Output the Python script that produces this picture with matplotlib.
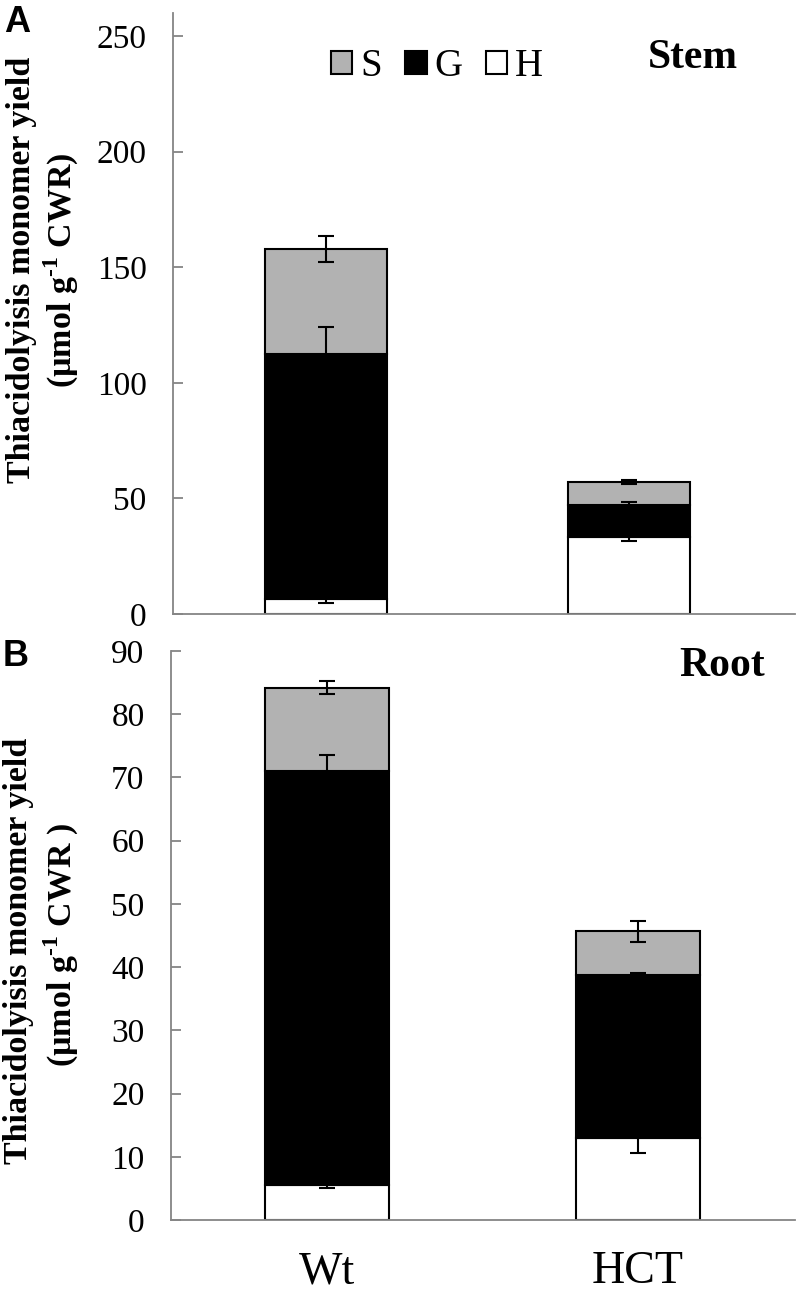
import numpy as np
import matplotlib.pyplot as plt
from matplotlib.patches import Patch

plt.rcParams['font.family'] = 'Liberation Serif'
plt.rcParams['mathtext.fontset'] = 'custom'
plt.rcParams['mathtext.rm'] = 'Liberation Serif:bold'
plt.rcParams['mathtext.bf'] = 'Liberation Serif:bold'

genotypes = ['Wt', 'HCT']

# stem (A): stacked segment values
stem_H = [6.5, 33.3]
stem_G = [106.0, 13.8]
stem_S = [45.5, 10.0]
stem_H_err = [1.8, 1.7]
stem_G_err = [11.7, 1.3]
stem_S_err = [5.6, 0.7]

# root (B)
root_H = [5.5, 13.0]
root_G = [65.5, 25.7]
root_S = [13.2, 6.95]
root_H_err = [0.5, 2.4]
root_G_err = [2.5, 0.3]
root_S_err = [1.0, 1.6]

gray = '#b2b2b2'
spine_col = '#858585'
W, H_px = 797, 1296

fig = plt.figure(figsize=(W / 100, H_px / 100), dpi=100)
axA = fig.add_axes([173 / W, 1 - 614 / H_px, (795 - 173) / W, (614 - 13) / H_px])
axB = fig.add_axes([171 / W, 1 - 1220 / H_px, (795 - 171) / W, (1220 - 651) / H_px])


def stacked(ax, h, g, s, eh, eg, es):
    x = np.arange(len(genotypes))
    h = np.array(h); g = np.array(g); s = np.array(s)
    kw = dict(width=0.4, edgecolor='black', linewidth=1.5, zorder=2)
    ax.bar(x, h, color='white', **kw)
    ax.bar(x, g, bottom=h, color='black', **kw)
    ax.bar(x, s, bottom=h + g, color=gray, **kw)
    ekw = dict(fmt='none', ecolor='black', elinewidth=1.5, capsize=5.5, capthick=1.5, zorder=4)
    ax.errorbar(x, h, yerr=eh, **ekw)
    ax.errorbar(x, h + g, yerr=eg, **ekw)
    ax.errorbar(x, h + g + s, yerr=es, **ekw)
    for side in ['top', 'right']:
        ax.spines[side].set_visible(False)
    for side in ['left', 'bottom']:
        ax.spines[side].set_color(spine_col)
        ax.spines[side].set_linewidth(1.3)
    ax.tick_params(axis='y', direction='in', length=7, width=1.3, color=spine_col,
                   labelsize=24, pad=19)
    ax.tick_params(axis='x', length=0)


stacked(axA, stem_H, stem_G, stem_S, stem_H_err, stem_G_err, stem_S_err)
axA.set_xlim(-0.505, 1.548)
axA.set_ylim(0, 260)
axA.set_yticks(range(0, 251, 50))
axA.set_xticks([])

stacked(axB, root_H, root_G, root_S, root_H_err, root_G_err, root_S_err)
axB.set_xlim(-0.502, 1.506)
axB.set_ylim(0, 90)
axB.set_yticks(range(0, 91, 10))
axB.set_xticks(range(len(genotypes)))
axB.set_xticklabels(genotypes, fontsize=33)
axB.tick_params(axis='x', pad=22)

handles = [Patch(facecolor=gray, edgecolor='black', linewidth=1.5, label='S'),
           Patch(facecolor='black', edgecolor='black', linewidth=1.5, label='G'),
           Patch(facecolor='white', edgecolor='black', linewidth=1.5, label='H')]
axA.legend(handles=handles, loc='center', bbox_to_anchor=(437 / W, 1 - 67 / H_px),
           bbox_transform=fig.transFigure, ncol=3, frameon=False,
           handlelength=0.55, handleheight=0.55, handletextpad=0.2,
           columnspacing=0.6, prop={'family': 'Liberation Serif', 'size': 28})

fig.text(738 / W, 1 - 68 / H_px, 'Stem', ha='right', va='baseline',
         fontsize=30, fontweight='bold')
fig.text(765 / W, 1 - 676 / H_px, 'Root', ha='right', va='baseline',
         fontsize=30, fontweight='bold')

fig.text(4 / W, 1 - 32 / H_px, 'A', family='Liberation Sans', fontweight='bold',
         fontsize=26, va='baseline')
fig.text(3 / W, 1 - 666 / H_px, 'B', family='Liberation Sans', fontweight='bold',
         fontsize=26, va='baseline')

lab = dict(rotation=90, ha='center', va='center', fontsize=24.5, fontweight='bold')
fig.text(22 / W, 1 - 270 / H_px, 'Thiacidolyisis monomer yield', **lab)
fig.text(61 / W, 1 - 270 / H_px, r'(µmol g$^{\text{-1}}$ CWR)', **lab)
fig.text(19 / W, 1 - 951 / H_px, 'Thiacidolyisis monomer yield', **lab)
fig.text(61 / W, 1 - 945 / H_px, r'(µmol g$^{\text{-1}}$ CWR )', **lab)

fig.savefig('out.png', dpi=100)
